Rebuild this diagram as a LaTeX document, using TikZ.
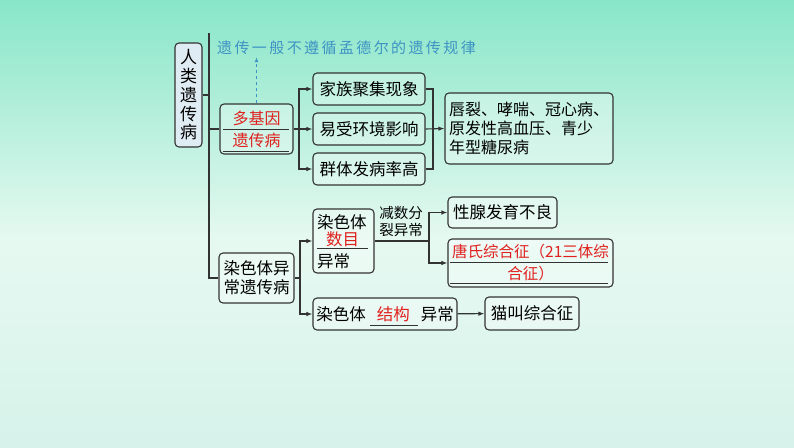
\documentclass[tikz,border=0pt]{standalone}
\usepackage{fontspec}
\setmainfont{Noto Sans CJK SC}
\newfontfamily\notefont[LetterSpace=16]{Noto Sans CJK SC}
\usepackage{xcolor}
\usepackage{tikz}
\usetikzlibrary{arrows.meta,positioning,calc}
\definecolor{linec}{HTML}{333333}
\definecolor{redtxt}{HTML}{E0201E}
\definecolor{notec}{HTML}{3E93C4}
\definecolor{titlec}{HTML}{E0ECF4}
\definecolor{bgtop}{HTML}{88E6C8}
\definecolor{bgmid}{HTML}{E6F9F1}
\definecolor{bgbot}{HTML}{D6F2EA}
\tikzstyle{box} = [rectangle, rounded corners=4pt, draw=linec, line width=1.1pt, fill=white, fill opacity=0.3, text opacity=1, inner sep=0pt, font=\fontsize{16.5}{19}\selectfont]
\tikzstyle{arrow} = [line width=1.1pt, draw=linec, -{Latex[length=6pt,width=4.5pt]}]

\begin{document}
\begin{tikzpicture}[x=1pt, y=-1pt]
    \tikzstyle{line} = [line width=1.1pt, draw=linec]
    \tikzstyle{blank} = [line width=0.9pt, draw=linec]
    \tikzstyle{plain} = [inner sep=0pt, font=\fontsize{16.5}{19}\selectfont]

    % Background
    \useasboundingbox (0,0) rectangle (794,447);
    \shade[top color=bgtop, bottom color=bgmid] (0,0) rectangle (794,240);
    \shade[top color=bgmid, bottom color=bgbot] (0,240) rectangle (794,447);

    % Nodes
    \node (title) [box, fill=titlec, fill opacity=1, minimum width=27pt, minimum height=104pt, align=center, font=\fontsize{17}{18.75}\selectfont] at (188.5,95) {人\\类\\遗\\传\\病};
    \node (note) [anchor=west, inner sep=2pt, text=notec, font=\notefont\fontsize{15}{15}\selectfont] at (215,48) {遗传一般不遵循孟德尔的遗传规律};

    \node (poly) [box, minimum width=73pt, minimum height=50pt, align=center, text=redtxt, font=\fontsize{16}{22}\selectfont] at (256.5,129) {多基因\\遗传病};
    \node (fam) [box, minimum width=112pt, minimum height=32pt] at (369,89) {家族聚集现象};
    \node (env) [box, minimum width=112pt, minimum height=32pt] at (369,129) {易受环境影响};
    \node (pop) [box, minimum width=112pt, minimum height=32pt] at (369,169) {群体发病率高};
    \node (ex) [box, minimum width=168pt, minimum height=71pt, text width=160pt, align=left, font=\fontsize{16}{19}\selectfont] at (529,128.5) {唇裂、哮喘、冠心病、\\原发性高血压、青少\\年型糖尿病};

    \node (chrom) [box, minimum width=75pt, minimum height=50pt, align=center] at (256.5,278) {染色体异\\常遗传病};
    \node (num) [box, minimum width=61pt, minimum height=64pt] at (343.5,241) {};
    \node (numa) [plain, anchor=west] at (317,222) {染色体};
    \node (numb) [plain, text=redtxt] at (342.5,239) {数目};
    \node (numc) [plain, anchor=west] at (317,261) {异常};
    \node (meio) [align=center, inner sep=0pt, font=\fontsize{14.5}{17}\selectfont] at (401,221.5) {减数分\\裂异常};
    \node (gonad) [box, minimum width=109pt, minimum height=31pt] at (502.5,212.5) {性腺发育不良};
    \node (down) [box, minimum width=165pt, minimum height=48pt, align=center, text=redtxt, font=\fontsize{15.5}{22}\selectfont] at (530.5,263) {唐氏综合征（21三体综\\合征）};
    \node (struct) [box, minimum width=144pt, minimum height=32pt] at (385,314) {染色体\hspace{11pt}\textcolor{redtxt}{结构}\hspace{11pt}异常};
    \node (cat) [box, minimum width=94pt, minimum height=33pt] at (532,313.5) {猫叫综合征};

    \coordinate (top) at (209,33);
    \coordinate (pj) at (299,129);
    \coordinate (rj) at (433,129);
    \coordinate (cj) at (300,278);
    \coordinate (nj) at (429,241);

    % Blanks
    \draw[blank] (223,129) -- (289,129);
    \draw[blank] (223,151) -- (289,151);
    \draw[blank] (317,248) -- (368,248);
    \draw[blank] (450,262) -- (608,262);
    \draw[blank] (450,283) -- (608,283);
    \draw[blank] (370,325) -- (418,325);

    % Arrows
    \draw[line] (top) |- (chrom.west);
    \draw[line] (title.east) -- (title.east -| top);
    \draw[line] (poly.west) -- (poly.west -| top);
    \draw[dashed, notec, line width=1pt, -{Latex[length=5pt,width=4pt]}] (poly.north) -- (poly.north |- note.south);

    \draw[line] (poly.east) -- (pj);
    \draw[arrow] (pj) |- (fam.west);
    \draw[arrow] (pj) -- (env.west);
    \draw[arrow] (pj) |- (pop.west);
    \draw[line] (fam.east) -| (rj);
    \draw[line] (pop.east) -| (rj);
    \draw[arrow] (env.east) -- (ex.west);

    \draw[line] (chrom.east) -- (cj);
    \draw[arrow] (cj) |- (num.west);
    \draw[arrow] (cj) |- (struct.west);
    \draw[line] (num.east) -- (nj);
    \draw[arrow] (nj) |- (gonad.west);
    \draw[arrow] (nj) |- (down.west);
    \draw[arrow] (struct) -- (cat);

\end{tikzpicture}
\end{document}
